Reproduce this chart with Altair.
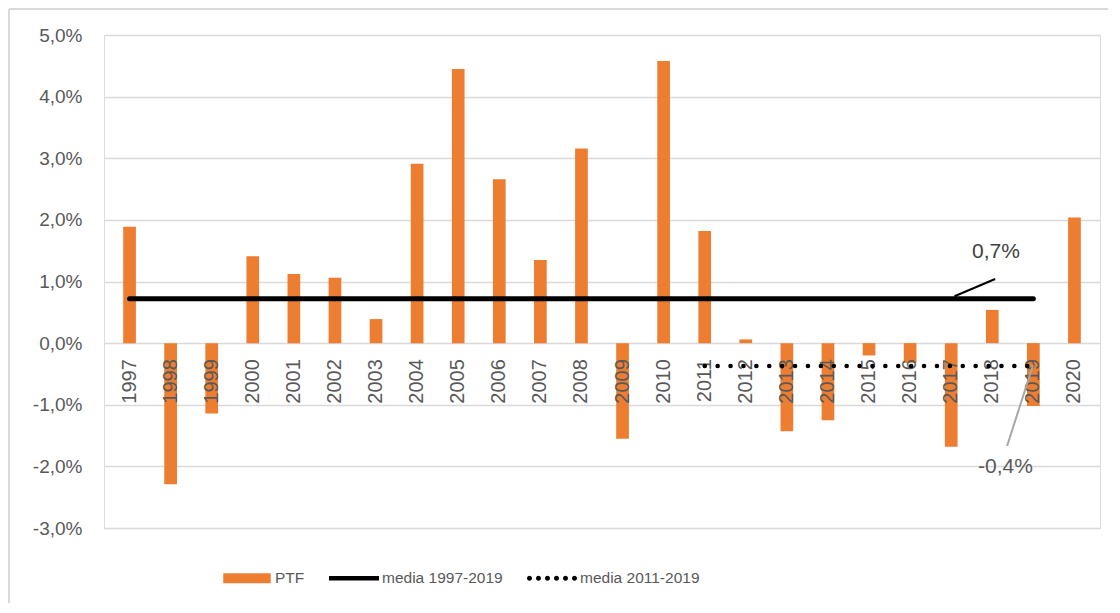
import altair as alt
import pandas as pd

# ---------------- data ----------------
years = list(range(1997, 2021))
ptf = [1.89, -2.29, -1.14, 1.41, 1.12, 1.06, 0.39, 2.91, 4.45, 2.66, 1.35, 3.16,
       -1.55, 4.58, 1.82, 0.06, -1.43, -1.25, -0.20, -0.32, -1.68, 0.54, -1.02, 2.04]

series = ["PTF", "media 1997-2019", "media 2011-2019"]
media_all_years = [1997, 2019]
media_all_value = 0.72
media_recent_years = [2011, 2019]
media_recent_value = -0.37

ann_labels = ["0,7%", "-0,4%"]
ann_x = [2018.09, 2018.32]
ann_y = [1.48, -2.01]
lead_x = [2017.08, 2018.36]
lead_y = [0.76, -1.67]
lead_x2 = [2018.07, 2018.99]
lead_y2 = [1.04, -0.36]

y_ticks = [-3, -2, -1, 0, 1, 2, 3, 4, 5]

# ---------------- tables ----------------
df = pd.DataFrame({"year": years, "ptf": ptf, "label": [str(y) for y in years]})
m1 = pd.DataFrame({"year": media_all_years, "v": [media_all_value] * 2})
m2 = pd.DataFrame({"year": media_recent_years, "v": [media_recent_value] * 2})
ann = pd.DataFrame({"x": ann_x, "y": ann_y, "t": ann_labels,
                    "c": ["#404040", "#595959"]})
lead = pd.DataFrame({"x": lead_x, "y": lead_y, "x2": lead_x2, "y2": lead_y2,
                     "c": ["#000000", "#a6a6a6"]})
leg = pd.DataFrame({"serie": series, "x": [2000] * 3, "y": [10] * 3})
one = pd.DataFrame({"a": [0]})

xs = alt.Scale(domain=[1996.5, 2020.5], nice=False, zero=False)
ys = alt.Scale(domain=[-3, 5], nice=False, zero=False)

ORANGE = "#ed7d31"
FONT = "Liberation Sans"

yaxis = alt.Axis(values=y_ticks,
                 labelExpr="replace(replace(format(datum.value, '.1f'), '.', ','), '\u2212', '-') + '%'",
                 domain=False, ticks=False, grid=True, gridColor="#d9d9d9",
                 gridWidth=1.3, labelColor="#595959", labelFontSize=19,
                 labelPadding=22, title=None, labelFont=FONT)

bars = alt.Chart(df).mark_bar(size=12.7, color=ORANGE).encode(
    x=alt.X("year:Q", scale=xs, axis=None),
    y=alt.Y("ptf:Q", scale=ys, axis=yaxis),
    y2=alt.datum(0),
)

year_labels = alt.Chart(df).mark_text(
    angle=270, align="right", baseline="middle", dx=-16, fontSize=20,
    color="#595959", font=FONT
).encode(x=alt.X("year:Q", scale=xs), y=alt.datum(0), text="label:N")

line_all = alt.Chart(m1).mark_line(color="#000000", strokeWidth=5, strokeCap="round").encode(
    x=alt.X("year:Q", scale=xs), y=alt.Y("v:Q", scale=ys))

line_recent = alt.Chart(m2).mark_line(color="#000000", strokeWidth=4.5, strokeCap="round",
                                      strokeDash=[0.1, 12.8]).encode(
    x=alt.X("year:Q", scale=xs), y=alt.Y("v:Q", scale=ys))

leaders = alt.Chart(lead).mark_rule(strokeWidth=2).encode(
    x=alt.X("x:Q", scale=xs), y=alt.Y("y:Q", scale=ys),
    x2="x2:Q", y2="y2:Q", color=alt.Color("c:N", scale=None))

ann_text = alt.Chart(ann).mark_text(fontSize=21, font=FONT, align="center",
                                    baseline="middle").encode(
    x=alt.X("x:Q", scale=xs), y=alt.Y("y:Q", scale=ys), text="t:N",
    color=alt.Color("c:N", scale=None))

# legend symbols (custom paths)
p_bar = "M-0.95,-0.2H0.95V0.2H-0.95Z"
p_line = "M-1,-0.09H1V0.09H-1Z"
dots = []
for i in range(6):
    cx = -0.9 + i * 0.36
    r = 0.1
    dots.append(f"M{cx - r:.3f},0a{r},{r} 0 1,0 {2 * r:.3f},0a{r},{r} 0 1,0 {-2 * r:.3f},0Z")
p_dots = "".join(dots)

leg_spec = dict(title=None, orient="none", legendX=118, legendY=518, direction="horizontal",
                labelFontSize=15.5, labelColor="#595959", labelFont=FONT, labelOffset=3,
                columnPadding=24, symbolSize=2500, symbolStrokeWidth=0, padding=0)

legend_pts = alt.Chart(leg).mark_point(filled=True, size=2500, clip=True, opacity=1).encode(
    x=alt.X("x:Q", scale=xs), y=alt.Y("y:Q", scale=ys),
    color=alt.Color("serie:N", scale=alt.Scale(domain=series, range=[ORANGE, "#000000", "#000000"]),
                    legend=alt.Legend(**leg_spec)),
    shape=alt.Shape("serie:N", scale=alt.Scale(domain=series, range=[p_bar, p_line, p_dots]),
                    legend=alt.Legend(**leg_spec)),
)

frame_top = alt.Chart(one).mark_rule(color="#d9d9d9", strokeWidth=2).encode(
    x=alt.value(-95), x2=alt.value(1010), y=alt.value(-26))
frame_left = alt.Chart(one).mark_rule(color="#d9d9d9", strokeWidth=2).encode(
    x=alt.value(-95), y=alt.value(-26), y2=alt.value(600))

chart = alt.layer(
    frame_top, frame_left, bars, year_labels, line_all, line_recent, leaders, ann_text, legend_pts
).properties(
    width=996, height=493,
    autosize=alt.AutoSizeParams(type="none"),
    padding={"left": 96, "top": 27, "right": 8, "bottom": 75},
    background="white",
).configure_view(stroke=None).configure(font=FONT)

chart.save("out.html", embed_options={"renderer": "svg", "actions": False})
